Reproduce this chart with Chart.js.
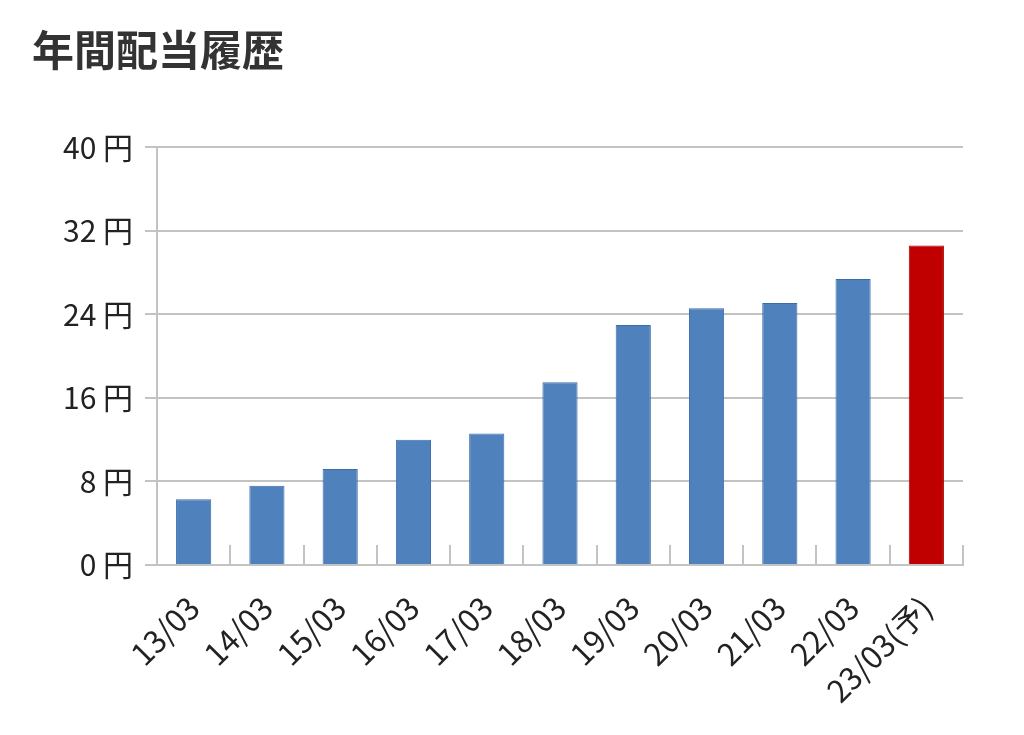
<!DOCTYPE html>
<html lang="ja">
<head>
<meta charset="utf-8">
<title>年間配当履歴</title>
<script src="https://cdn.jsdelivr.net/npm/chart.js@4/dist/chart.umd.min.js"></script>
<style>
  html, body { margin: 0; padding: 0; background: #fff; }
  #wrap { width: 1024px; height: 735px; position: relative; }
</style>
</head>
<body>
<div id="wrap"><canvas id="myChart"></canvas></div>
<script>
// 決算期（最後は予想）
var periods = ['13/03', '14/03', '15/03', '16/03', '17/03', '18/03', '19/03', '20/03', '21/03', '22/03', '23/03(予)'];
// 1株あたり年間配当（円）
var dividends = [6.3, 7.6, 9.2, 12.0, 12.6, 17.5, 23.0, 24.6, 25.1, 27.4, 30.6];
// 縦軸の目盛り
var yTicks = [0, 8, 16, 24, 32, 40];

var fontFamily = '"Noto Sans CJK JP", "Noto Sans", sans-serif';
var gridColor = '#c3c3c3';

// 予想の年だけ赤
function isForecast(label) { return label.indexOf('予') !== -1; }

var ctx = document.getElementById('myChart');
var myChart = new Chart(ctx, {
  type: 'bar',
  data: {
    labels: periods,
    datasets: [{
      data: dividends,
      backgroundColor: periods.map(function (p) { return isForecast(p) ? '#c00000' : '#4f81bd'; }),
      borderColor: periods.map(function (p) { return isForecast(p) ? '#a80000' : '#3a6cad'; }),
      borderWidth: 1,
      categoryPercentage: 1,
      barPercentage: 0.48
    }]
  },
  options: {
    responsive: true,
    maintainAspectRatio: false,
    animation: false,
    layout: { padding: { left: 32, right: 61, top: 0, bottom: 0 } },
    plugins: {
      legend: { display: false },
      tooltip: { enabled: false },
      title: {
        display: true,
        text: '年間配当履歴',
        align: 'start',
        color: '#333',
        font: { family: fontFamily, size: 42, weight: 'bold' },
        padding: { top: 25, bottom: 72 }
      }
    },
    scales: {
      x: {
        afterFit: function (scale) { scale.height = 170; },
        grid: {
          offset: true,
          drawOnChartArea: false,
          color: gridColor,
          lineWidth: 2,
          tickLength: -20
        },
        border: { color: gridColor, width: 2 },
        ticks: {
          color: '#222',
          font: { family: fontFamily, size: 31 },
          minRotation: 45,
          maxRotation: 45,
          padding: 44
        }
      },
      y: {
        min: 0,
        max: 40,
        afterFit: function (scale) { scale.width = 125; },
        afterBuildTicks: function (scale) {
          scale.ticks = yTicks.map(function (v) { return { value: v }; });
        },
        grid: { color: gridColor, lineWidth: 2, tickLength: 12 },
        border: { color: gridColor, width: 2 },
        ticks: {
          color: '#222',
          font: { family: fontFamily, size: 30 },
          padding: 12,
          callback: function (v) { return v + ' 円'; }
        }
      }
    }
  }
});
</script>
</body>
</html>
